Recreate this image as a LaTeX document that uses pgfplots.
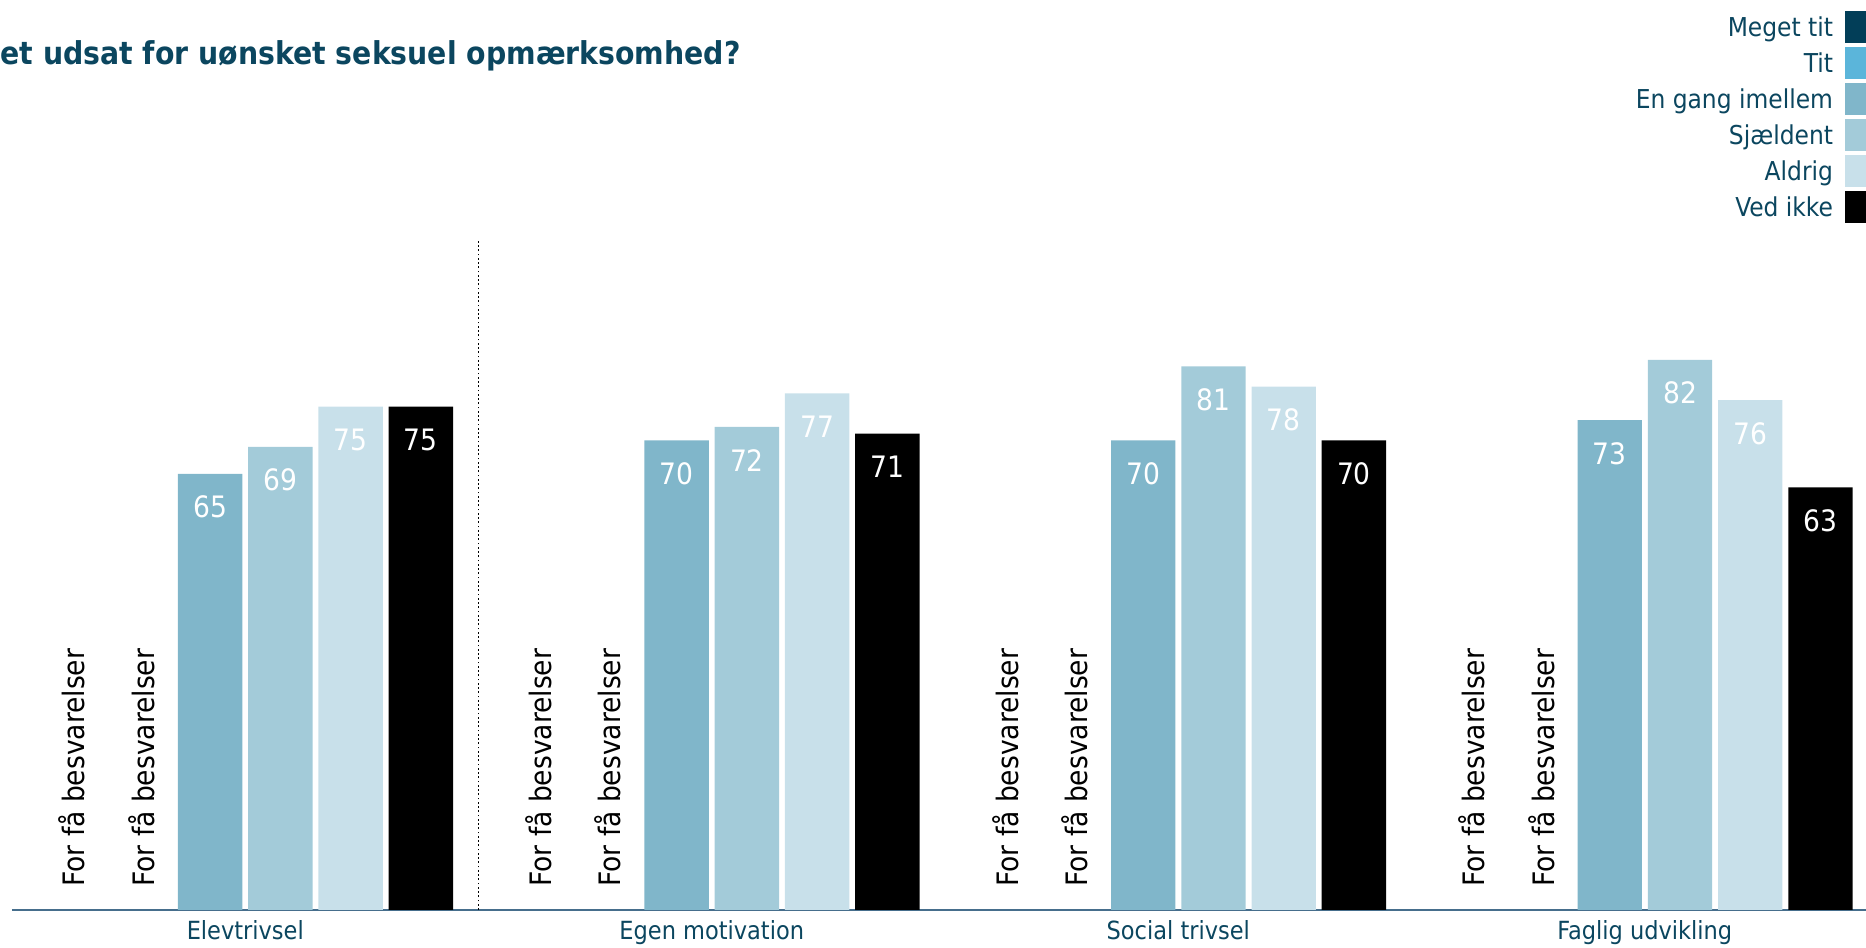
\documentclass[border=0pt]{standalone}
\usepackage{pgfplots}
\pgfplotsset{compat=1.18}
\usepackage{fontspec}
\setmainfont{DejaVu Sans Condensed}
\definecolor{textc}{RGB}{11,70,95}
\definecolor{axisc}{RGB}{70,110,140}
\definecolor{cA}{RGB}{2,62,88}
\definecolor{cB}{RGB}{91,181,218}
\definecolor{cC}{RGB}{128,182,202}
\definecolor{cD}{RGB}{163,203,217}
\definecolor{cE}{RGB}{200,224,234}
\definecolor{cF}{RGB}{0,0,0}
\pgfplotsset{sq/.style={legend image code/.code={\fill[##1, draw=none] (0pt,-2.6pt) rectangle (8.4pt,10.2pt);}}}
\begin{document}
\begin{tikzpicture}
\useasboundingbox (0,0) rectangle (746.4pt,379.2pt);
\node[anchor=base west, font=\fontsize{12.6}{15}\selectfont\bfseries, text=textc, inner sep=0pt] at (0pt,353.2pt) {et udsat for uønsket seksuel opmærksomhed?};
\begin{axis}[
  at={(4.8pt,15.2pt)}, anchor=south west, scale only axis,
  width=741.6pt, height=268.4pt,
  xmin=-0.5, xmax=3.474, ymin=0, ymax=100,
  axis x line=bottom, axis y line=none,
  x axis line style={-, draw=axisc, line width=0.6pt},
  xtick={0,1,2,3},
  xticklabels={Elevtrivsel, Egen motivation, Social trivsel, Faglig udvikling},
  xtick style={draw=none}, ytick=\empty,
  xticklabel style={font=\fontsize{10}{12}\selectfont, text=textc, anchor=base, yshift=-9.6pt},
  /pgf/number format/assume math mode=true,
  clip=false,
  bar width=0.138,
  nodes near coords,
  every node near coord/.append style={anchor=center, yshift=-13.3pt, text=white, font=\fontsize{11.8}{13}\selectfont},
  legend style={at={(1,1.3398)}, anchor=north east, draw=none, fill=none,
    inner sep=0pt, outer sep=0pt, row sep=1.6pt, column sep=4.8pt,
    font=\fontsize{10.4}{12}\selectfont, text=textc,
    nodes={anchor=base east, inner sep=0pt}},
  legend plot pos=right, legend cell align=right,
]
\addlegendimage{sq, fill=cA}\addlegendentry{Meget tit}
\addlegendimage{sq, fill=cB}\addlegendentry{Tit}
\addlegendimage{sq, fill=cC}\addlegendentry{En gang imellem}
\addlegendimage{sq, fill=cD}\addlegendentry{Sjældent}
\addlegendimage{sq, fill=cE}\addlegendentry{Aldrig}
\addlegendimage{sq, fill=cF}\addlegendentry{Ved ikke}

% En gang imellem
\addplot[ybar, bar shift=0pt, fill=cC, draw=none, forget plot] coordinates {(-0.0753,65) (0.9247,70) (1.9247,70) (2.9247,73)};
% Sjaeldent
\addplot[ybar, bar shift=0pt, fill=cD, draw=none, forget plot] coordinates {(0.0753,69) (1.0753,72) (2.0753,81) (3.0753,82)};
% Aldrig
\addplot[ybar, bar shift=0pt, fill=cE, draw=none, forget plot] coordinates {(0.2258,75) (1.2258,77) (2.2258,78) (3.2258,76)};
% Ved ikke
\addplot[ybar, bar shift=0pt, fill=cF, draw=none, forget plot] coordinates {(0.3763,75) (1.3763,71) (2.3763,70) (3.3763,63)};

\pgfplotsinvokeforeach{0,1,2,3}{
  \node[rotate=90, anchor=west, font=\fontsize{11.8}{14}\selectfont, inner sep=0pt] at (axis cs:#1-0.371,3.4) {For få besvarelser};
  \node[rotate=90, anchor=west, font=\fontsize{11.8}{14}\selectfont, inner sep=0pt] at (axis cs:#1-0.222,3.4) {For få besvarelser};
}
\draw[densely dotted, line width=0.7pt] (axis cs:0.5,0) -- (axis cs:0.5,100);
\end{axis}
\end{tikzpicture}
\end{document}
